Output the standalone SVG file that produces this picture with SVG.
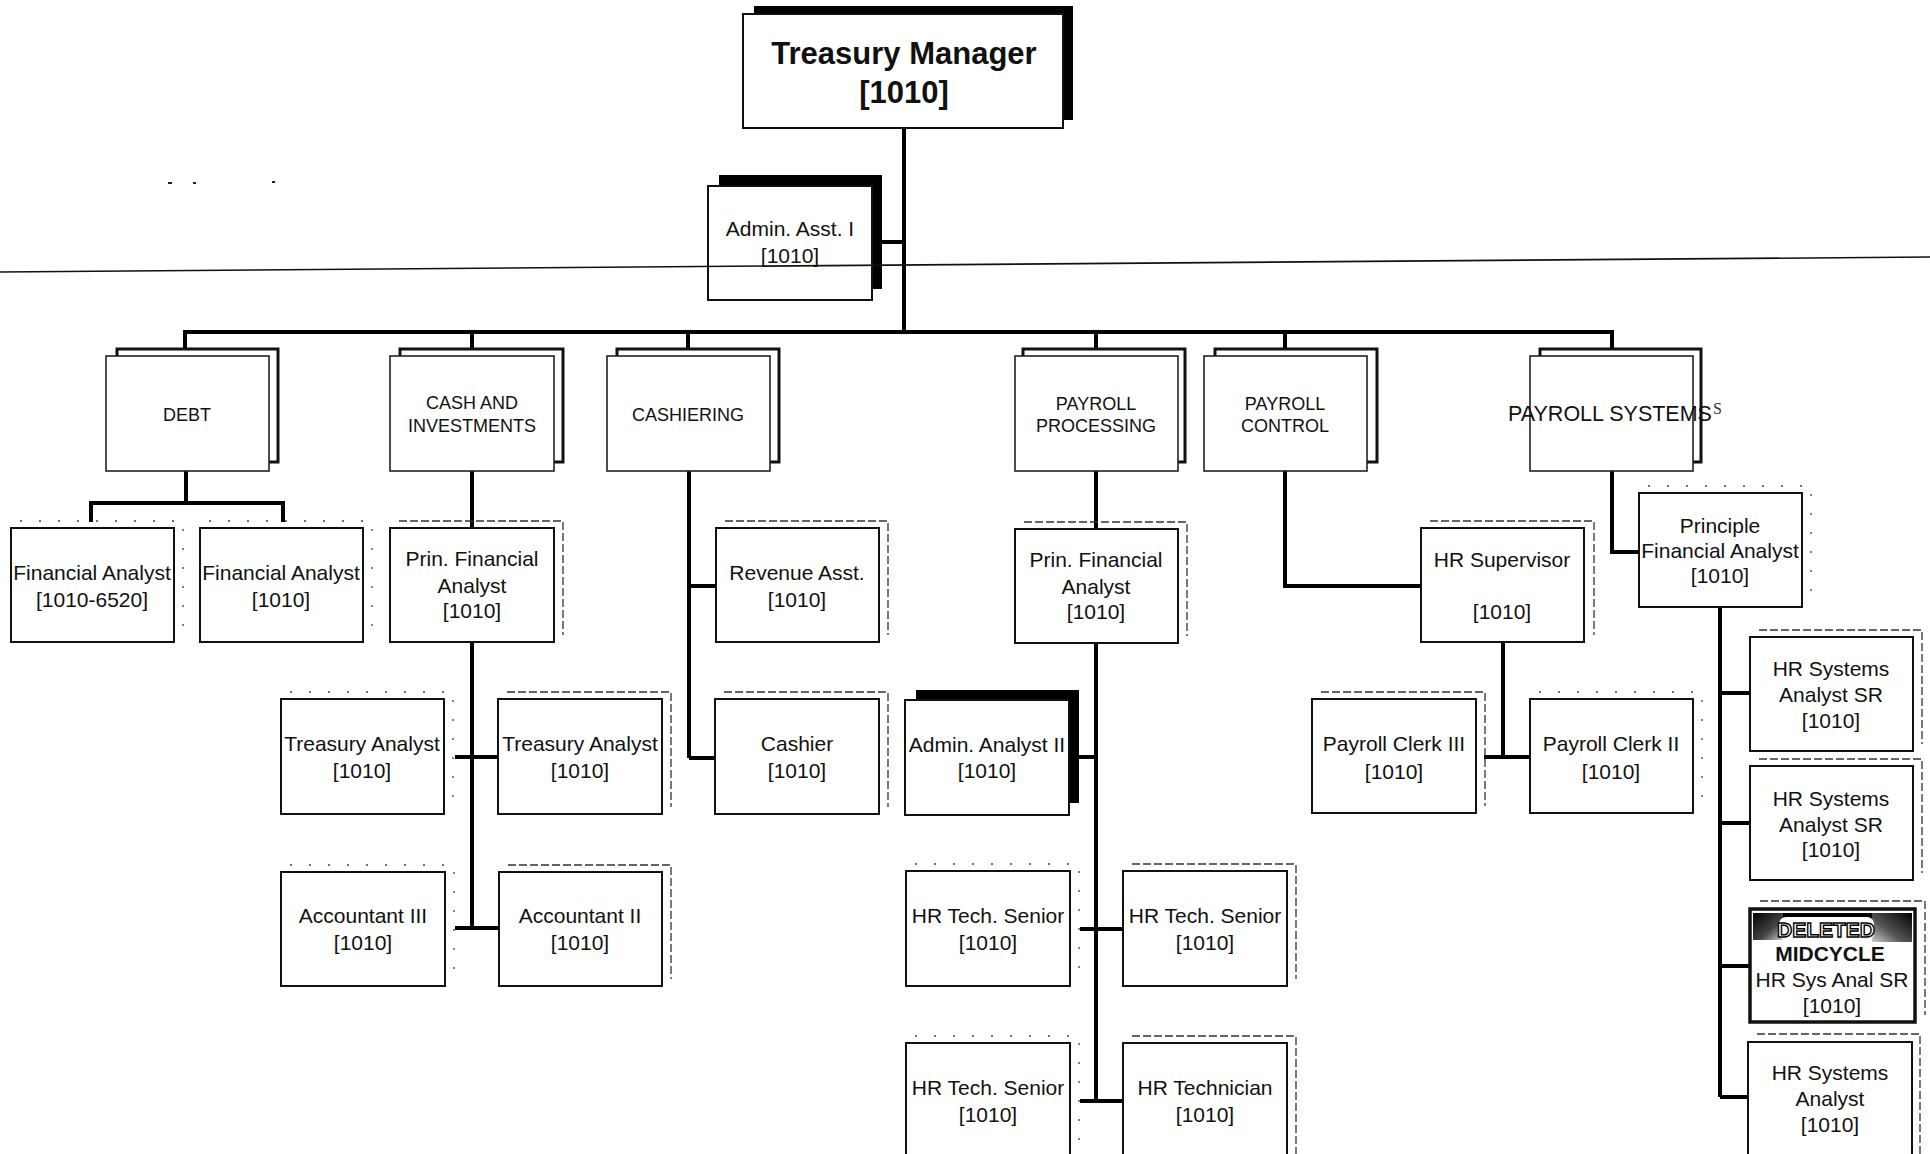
<svg xmlns="http://www.w3.org/2000/svg" width="1930" height="1154" viewBox="0 0 1930 1154">
<defs>
<style>
.box{fill:#fff;stroke:#111;stroke-width:2}
.dept{fill:#fff;stroke:#222;stroke-width:1.6}
.dsh{fill:#fff;stroke:#111;stroke-width:3}
.bsh{fill:#000}
.gh{fill:none;stroke:#333;stroke-width:1.3;stroke-dasharray:8 3}
.gd{fill:none;stroke:#444;stroke-width:1.3;stroke-dasharray:2 17}
.conn{fill:none;stroke:#000;stroke-width:4}
.t{font-family:"Liberation Sans",Arial,Helvetica,sans-serif;font-size:21px;fill:#111;text-anchor:middle}
.td{font-size:18px}
.tm{font-size:31px;font-weight:bold}
.tb{font-weight:bold}
</style>
<linearGradient id="noiseL" x1="0" y1="0" x2="1" y2="1"><stop offset="0" stop-color="#000"/><stop offset="0.6" stop-color="#444"/><stop offset="1" stop-color="#ccc"/></linearGradient>
<linearGradient id="noiseR" x1="1" y1="0" x2="0" y2="1"><stop offset="0" stop-color="#000"/><stop offset="0.6" stop-color="#555"/><stop offset="1" stop-color="#ccc"/></linearGradient>
</defs>
<rect x="0" y="0" width="1930" height="1154" fill="#fff"/>

<g id="connectors">
<path class="conn" d="M904 128 V332"/>
<path class="conn" d="M882 242 H904"/>
<path class="conn" d="M185 349 V332 H1612 V349"/>
<path class="conn" d="M472 332 V349 M688 332 V349 M1096 332 V349 M1285 332 V349"/>
<path class="conn" d="M186 471 V503 M91 522 V503 H283 V522"/>
<path class="conn" d="M472 471 V528 M472 642 V929 M455 757 H498 M455 928 H499"/>
<path class="conn" d="M689 471 V758 M689 586 H716 M689 758 H715"/>
<path class="conn" d="M1096 471 V529 M1096 643 V1101 M1079 757 H1096 M1080 929 H1123 M1080 1101 H1123"/>
<path class="conn" d="M1285 471 V586 H1421"/>
<path class="conn" d="M1503 642 V757 M1484 757 H1530"/>
<path class="conn" d="M1612 471 V552 H1639"/>
<path class="conn" d="M1720 607 V1097 M1720 693 H1750 M1720 823 H1750 M1720 966 H1750 M1720 1097 H1748"/>
</g>

<g id="treasury-manager">
<rect class="bsh" x="754" y="6" width="319" height="114"/>
<rect class="box" x="743" y="14" width="320" height="114"/>
<text class="t tm" x="904" y="64">Treasury Manager</text>
<text class="t tm" x="904" y="103">[1010]</text>
</g>

<g id="admin-asst-i">
<rect class="bsh" x="719" y="175" width="163" height="114"/>
<rect class="box" x="708" y="186" width="164" height="114"/>
<text class="t" x="790" y="236">Admin. Asst. I</text>
<text class="t" x="790" y="263">[1010]</text>
</g>

<g id="debt">
<rect class="dsh" x="117" y="349" width="161" height="113"/>
<rect class="dept" x="106" y="356" width="163" height="115"/>
<text class="t td" x="187" y="421">DEBT</text>
</g>
<g id="cash-and-investments">
<rect class="dsh" x="400" y="349" width="163" height="113"/>
<rect class="dept" x="390" y="356" width="164" height="115"/>
<text class="t td" x="472" y="409">CASH AND</text>
<text class="t td" x="472" y="432">INVESTMENTS</text>
</g>
<g id="cashiering">
<rect class="dsh" x="617" y="349" width="162" height="113"/>
<rect class="dept" x="607" y="356" width="163" height="115"/>
<text class="t td" x="688" y="421">CASHIERING</text>
</g>
<g id="payroll-processing">
<rect class="dsh" x="1023" y="349" width="162" height="113"/>
<rect class="dept" x="1015" y="356" width="163" height="115"/>
<text class="t td" x="1096" y="410">PAYROLL</text>
<text class="t td" x="1096" y="432">PROCESSING</text>
</g>
<g id="payroll-control">
<rect class="dsh" x="1215" y="349" width="162" height="113"/>
<rect class="dept" x="1204" y="356" width="163" height="115"/>
<text class="t td" x="1285" y="410">PAYROLL</text>
<text class="t td" x="1285" y="432">CONTROL</text>
</g>
<g id="payroll-systems">
<rect class="dsh" x="1540" y="349" width="161" height="113"/>
<rect class="dept" x="1530" y="356" width="163" height="115"/>
<text class="t" x="1610" y="421" style="font-size:21.5px">PAYROLL SYSTEMS</text>
<text x="1713" y="414" style="font-family:'Liberation Serif',serif;font-size:16px;fill:#333">S</text>
</g>

<g id="financial-analyst-1">
<path class="gd" d="M20 521 H183 V635"/>
<rect class="box" x="11" y="528" width="163" height="114"/>
<text class="t" x="92" y="580">Financial Analyst</text>
<text class="t" x="92" y="607">[1010-6520]</text>
</g>
<g id="financial-analyst-2">
<path class="gd" d="M209 521 H372 V635"/>
<rect class="box" x="200" y="528" width="163" height="114"/>
<text class="t" x="281" y="580">Financial Analyst</text>
<text class="t" x="281" y="607">[1010]</text>
</g>
<g id="prin-financial-analyst-cash">
<path class="gh" d="M399 521 H563 V635"/>
<rect class="box" x="390" y="528" width="164" height="114"/>
<text class="t" x="472" y="566">Prin. Financial</text>
<text class="t" x="472" y="593">Analyst</text>
<text class="t" x="472" y="618">[1010]</text>
</g>
<g id="revenue-asst">
<path class="gh" d="M725 521 H888 V635"/>
<rect class="box" x="716" y="528" width="163" height="114"/>
<text class="t" x="797" y="580">Revenue Asst.</text>
<text class="t" x="797" y="607">[1010]</text>
</g>
<g id="prin-financial-analyst-payroll">
<path class="gh" d="M1024 522 H1187 V636"/>
<rect class="box" x="1015" y="529" width="163" height="114"/>
<text class="t" x="1096" y="567">Prin. Financial</text>
<text class="t" x="1096" y="594">Analyst</text>
<text class="t" x="1096" y="619">[1010]</text>
</g>
<g id="hr-supervisor">
<path class="gh" d="M1430 521 H1594 V635"/>
<rect class="box" x="1421" y="528" width="163" height="114"/>
<text class="t" x="1502" y="567">HR Supervisor</text>
<text class="t" x="1502" y="619">[1010]</text>
</g>
<g id="principle-financial-analyst">
<path class="gd" d="M1648 486 H1811 V600"/>
<rect class="box" x="1639" y="493" width="163" height="114"/>
<text class="t" x="1720" y="533">Principle</text>
<text class="t" x="1720" y="558">Financial Analyst</text>
<text class="t" x="1720" y="583">[1010]</text>
</g>

<g id="treasury-analyst-1">
<path class="gd" d="M290 692 H453 V807"/>
<rect class="box" x="281" y="699" width="163" height="115"/>
<text class="t" x="362" y="751">Treasury Analyst</text>
<text class="t" x="362" y="778">[1010]</text>
</g>
<g id="treasury-analyst-2">
<path class="gh" d="M507 692 H671 V807"/>
<rect class="box" x="498" y="699" width="164" height="115"/>
<text class="t" x="580" y="751">Treasury Analyst</text>
<text class="t" x="580" y="778">[1010]</text>
</g>
<g id="cashier">
<path class="gh" d="M724 692 H888 V807"/>
<rect class="box" x="715" y="699" width="164" height="115"/>
<text class="t" x="797" y="751">Cashier</text>
<text class="t" x="797" y="778">[1010]</text>
</g>
<g id="admin-analyst-ii">
<rect class="bsh" x="916" y="690" width="163" height="113"/>
<rect class="box" x="905" y="700" width="164" height="115"/>
<text class="t" x="987" y="752">Admin. Analyst II</text>
<text class="t" x="987" y="778">[1010]</text>
</g>
<g id="payroll-clerk-iii">
<path class="gh" d="M1321 692 H1485 V806"/>
<rect class="box" x="1312" y="699" width="164" height="114"/>
<text class="t" x="1394" y="751">Payroll Clerk III</text>
<text class="t" x="1394" y="779">[1010]</text>
</g>
<g id="payroll-clerk-ii">
<path class="gd" d="M1539 692 H1702 V806"/>
<rect class="box" x="1530" y="699" width="163" height="114"/>
<text class="t" x="1611" y="751">Payroll Clerk II</text>
<text class="t" x="1611" y="779">[1010]</text>
</g>
<g id="hr-systems-analyst-sr-1">
<path class="gh" d="M1759 630 H1922 V744"/>
<rect class="box" x="1750" y="637" width="163" height="114"/>
<text class="t" x="1831" y="676">HR Systems</text>
<text class="t" x="1831" y="702">Analyst SR</text>
<text class="t" x="1831" y="728">[1010]</text>
</g>

<g id="accountant-iii">
<path class="gd" d="M290 865 H454 V979"/>
<rect class="box" x="281" y="872" width="164" height="114"/>
<text class="t" x="363" y="923">Accountant III</text>
<text class="t" x="363" y="950">[1010]</text>
</g>
<g id="accountant-ii">
<path class="gh" d="M508 865 H671 V979"/>
<rect class="box" x="499" y="872" width="163" height="114"/>
<text class="t" x="580" y="923">Accountant II</text>
<text class="t" x="580" y="950">[1010]</text>
</g>
<g id="hr-tech-senior-1">
<path class="gd" d="M915 864 H1079 V979"/>
<rect class="box" x="906" y="871" width="164" height="115"/>
<text class="t" x="988" y="923">HR Tech. Senior</text>
<text class="t" x="988" y="950">[1010]</text>
</g>
<g id="hr-tech-senior-2">
<path class="gh" d="M1132 864 H1296 V979"/>
<rect class="box" x="1123" y="871" width="164" height="115"/>
<text class="t" x="1205" y="923">HR Tech. Senior</text>
<text class="t" x="1205" y="950">[1010]</text>
</g>
<g id="hr-systems-analyst-sr-2">
<path class="gh" d="M1759 759 H1922 V873"/>
<rect class="box" x="1750" y="766" width="163" height="114"/>
<text class="t" x="1831" y="806">HR Systems</text>
<text class="t" x="1831" y="832">Analyst SR</text>
<text class="t" x="1831" y="857">[1010]</text>
</g>
<g id="deleted-hr-sys-anal-sr">
<path class="gh" d="M1760 901 H1925 V1015"/>
<rect class="box" x="1750" y="909" width="165" height="113" style="stroke-width:3.5"/>
<rect x="1753" y="913" width="159" height="8" fill="#000"/>
<rect x="1753" y="913" width="30" height="27" fill="url(#noiseL)"/>
<rect x="1872" y="913" width="40" height="29" fill="url(#noiseR)"/>
<rect x="1779" y="917" width="95" height="23" rx="7" fill="#fff"/>
<text class="t tb" x="1826" y="937" style="fill:#fff;stroke:#000;stroke-width:1.4">DELETED</text>
<text class="t tb" x="1830" y="961">MIDCYCLE</text>
<text class="t" x="1832" y="987">HR Sys Anal SR</text>
<text class="t" x="1832" y="1013">[1010]</text>
</g>

<g id="hr-tech-senior-3">
<path class="gd" d="M915 1036 H1079 V1154"/>
<rect class="box" x="906" y="1043" width="164" height="130"/>
<text class="t" x="988" y="1095">HR Tech. Senior</text>
<text class="t" x="988" y="1122">[1010]</text>
</g>
<g id="hr-technician">
<path class="gh" d="M1132 1036 H1296 V1154"/>
<rect class="box" x="1123" y="1043" width="164" height="130"/>
<text class="t" x="1205" y="1095">HR Technician</text>
<text class="t" x="1205" y="1122">[1010]</text>
</g>
<g id="hr-systems-analyst">
<path class="gh" d="M1757 1034 H1920 V1154"/>
<rect class="box" x="1748" y="1042" width="164" height="130"/>
<text class="t" x="1830" y="1080">HR Systems</text>
<text class="t" x="1830" y="1106">Analyst</text>
<text class="t" x="1830" y="1132">[1010]</text>
</g>

<g id="scan-marks">
<line x1="0" y1="272" x2="1930" y2="257" stroke="#111" stroke-width="1.6"/>
<rect x="168" y="182" width="4" height="2" fill="#222"/>
<rect x="193" y="182" width="3" height="2" fill="#222"/>
<rect x="272" y="181" width="3" height="2" fill="#222"/>
</g>
</svg>
